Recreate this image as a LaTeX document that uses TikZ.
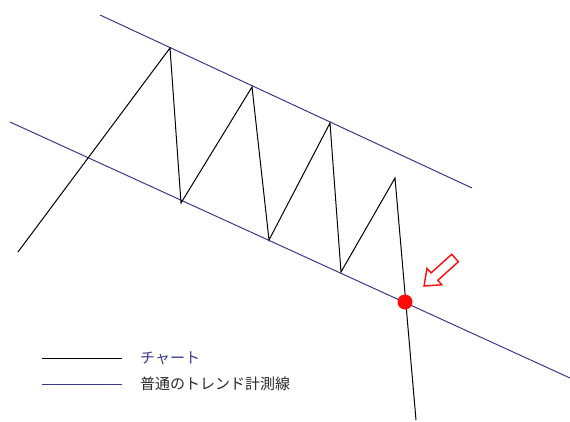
\documentclass[tikz,border=0pt]{standalone}
\usepackage{fontspec}
\newfontfamily\jpfont{Noto Sans CJK JP}
\usetikzlibrary{positioning,calc}
\definecolor{trend}{HTML}{3A3A8C}
\definecolor{alert}{HTML}{FF0A0A}
\definecolor{ink}{HTML}{2A2A2A}

\begin{document}
\begin{tikzpicture}[
  x=1pt,y=-1pt,
  chart/.style={draw=black,line width=1pt,line join=miter},
  trendline/.style={draw=trend,line width=1pt},
  legtext/.style={font=\jpfont\fontsize{15}{17}\selectfont,inner sep=0pt},
  hit/.style={circle,fill=alert,minimum size=15pt,inner sep=0pt},
  warn/.style={draw=alert,line width=1.4pt,fill=white,line join=miter},
]
\useasboundingbox[fill=white] (0,0) rectangle (570,422);

% ---- Trend lines
\coordinate (up1) at (100,15);
\coordinate (up2) at (472,188);
\coordinate (lo1) at (10,122);
\coordinate (lo2) at (570,378);
\draw[trendline] (up1) -- (up2);
\draw[trendline] (lo1) -- (lo2);

% ---- Chart
\coordinate (c0) at (18,252);
\coordinate (c1) at (170,48);
\coordinate (c2) at (181,203);
\coordinate (c3) at (252,87);
\coordinate (c4) at (269,240);
\coordinate (c5) at (330,123);
\coordinate (c6) at (341,272);
\coordinate (c7) at (395,178);
\coordinate (c8) at (416,420);
\draw[chart] (c0) -- (c1) -- (c2) -- (c3) -- (c4) -- (c5) -- (c6) -- (c7) -- (c8);

% ---- Break point
\node[hit] (brk) at (405,302) {};

% ---- Warning arrow
\draw[warn] (424,286) -- (441.8,284.8) -- (437.8,280.3) -- (458.4,261.7)
  -- (451.7,254.3) -- (431.1,272.9) -- (427.0,268.4) -- cycle;

% ---- Legend
\coordinate (k1a) at (42,358);
\coordinate (k1b) at (122,358);
\coordinate (k2a) at (42,384);
\coordinate (k2b) at (122,384);
\draw[chart] (k1a) -- (k1b);
\draw[trendline] (k2a) -- (k2b);
\node[legtext,text=trend,right=18pt of k1b] (lchart) {チャート};
\node[legtext,text=ink,right=18pt of k2b] (ltrend) {普通のトレンド計測線};

\end{tikzpicture}
\end{document}
